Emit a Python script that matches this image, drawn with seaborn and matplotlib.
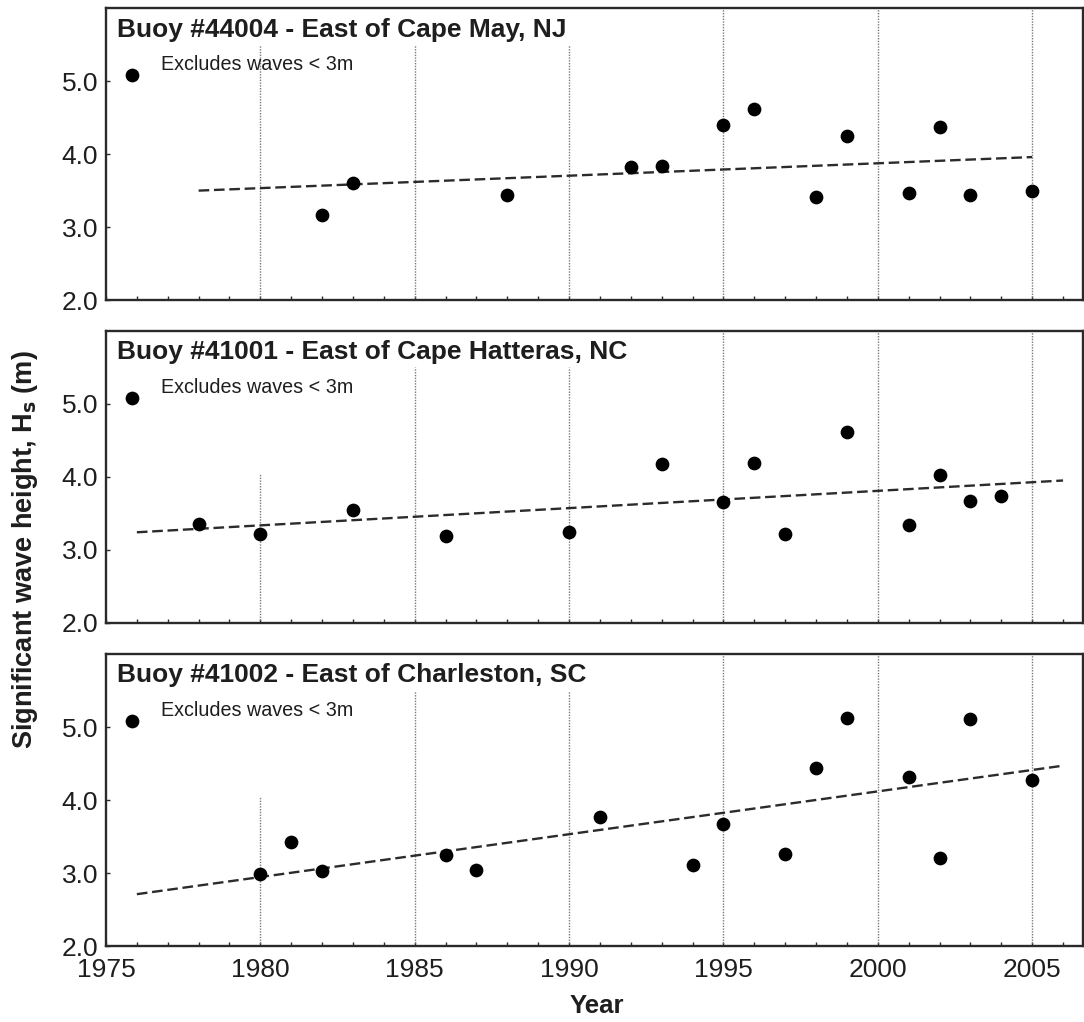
import numpy as np
import pandas as pd
import matplotlib
matplotlib.use("Agg")
import matplotlib.pyplot as plt
from matplotlib.ticker import MultipleLocator, FormatStrFormatter
import seaborn as sns

# ---- data -------------------------------------------------------------
titles = [
    "Buoy #44004 - East of Cape May, NJ",
    "Buoy #41001 - East of Cape Hatteras, NC",
    "Buoy #41002 - East of Charleston, SC",
]

years_44004 = [1982, 1983, 1988, 1992, 1993, 1995, 1996, 1998, 1999, 2001, 2002, 2003, 2005]
hs_44004 = [3.16, 3.60, 3.44, 3.82, 3.84, 4.40, 4.62, 3.41, 4.25, 3.47, 4.37, 3.44, 3.50]
trend_years_44004 = [1978, 2005]
trend_hs_44004 = [3.50, 3.96]

years_41001 = [1978, 1980, 1983, 1986, 1990, 1993, 1995, 1996, 1997, 1999, 2001, 2002, 2003, 2004]
hs_41001 = [3.36, 3.21, 3.55, 3.19, 3.24, 4.17, 3.66, 4.19, 3.21, 4.62, 3.34, 4.02, 3.67, 3.74]
trend_years_41001 = [1976, 2006]
trend_hs_41001 = [3.24, 3.95]

years_41002 = [1980, 1981, 1982, 1986, 1987, 1991, 1994, 1995, 1997, 1998, 1999, 2001, 2002, 2003, 2005]
hs_41002 = [2.98, 3.43, 3.03, 3.24, 3.04, 3.77, 3.11, 3.67, 3.26, 4.44, 5.12, 4.31, 3.21, 5.11, 4.28]
trend_years_41002 = [1976, 2006]
trend_hs_41002 = [2.71, 4.47]

legend_label = "Excludes waves < 3m"
grid_years = [1980, 1985, 1990, 1995, 2000, 2005]
x_ticks = [1975, 1980, 1985, 1990, 1995, 2000, 2005]
y_ticks = [2.0, 3.0, 4.0, 5.0]

# upper end of each dotted year line, per panel (lines stop short of the text)
grid_tops = [
    [5.5, 5.5, 5.5, 6.0, 6.0, 6.0],
    [4.05, 5.5, 5.5, 6.0, 6.0, 6.0],
    [4.05, 5.5, 5.5, 6.0, 6.0, 6.0],
]

panels = [
    (years_44004, hs_44004, trend_years_44004, trend_hs_44004),
    (years_41001, hs_41001, trend_years_41001, trend_hs_41001),
    (years_41002, hs_41002, trend_years_41002, trend_hs_41002),
]

# ---- style ------------------------------------------------------------
sns.set_theme(style="white")
plt.rcParams["font.family"] = ["Liberation Sans", "DejaVu Sans"]
ink = "#1e1e1e"
frame = "#2a2a2a"

W, H = 1084, 1022
fig = plt.figure(figsize=(W / 100, H / 100), dpi=100)

left = 106 / W
width = (1082.5 - 106) / W
panel_px = [(8.3, 300.0), (331.0, 622.7), (654.0, 946.0)]

for i, ((yrs, hs, tyrs, ths), (top_px, bot_px)) in enumerate(zip(panels, panel_px)):
    ax = fig.add_axes([left, 1 - bot_px / H, width, (bot_px - top_px) / H])
    ax.set_xlim(1975, 2006.63)
    ax.set_ylim(2.0, 6.0)

    # dotted year lines
    ax.vlines(grid_years, 2.0, grid_tops[i], colors="#7a7a7a",
              linestyles=(0, (1, 1)), linewidth=1.0, zorder=1)

    df = pd.DataFrame({"year": yrs, "hs": hs})
    sns.scatterplot(data=df, x="year", y="hs", ax=ax, color="black",
                    s=98, linewidth=0, zorder=4, legend=False)

    tdf = pd.DataFrame({"year": tyrs, "hs": ths})
    sns.lineplot(data=tdf, x="year", y="hs", ax=ax, color="#2b2b2b",
                 linewidth=1.7, dashes=False, zorder=3, legend=False)
    ax.lines[-1].set_dashes((4.5, 2.0))

    # panel heading and key
    ax.text(0.0113, 0.9026, titles[i], transform=ax.transAxes, ha="left",
            va="baseline", fontsize=19, fontweight="bold", color=ink)
    ax.scatter([0.0263], [0.771], transform=ax.transAxes, s=98, color="black",
               linewidth=0, zorder=5, clip_on=False)
    ax.text(0.0563, 0.7885, legend_label, transform=ax.transAxes, ha="left",
            va="baseline", fontsize=14.2, color=ink)

    # axes frame and ticks
    for sp in ax.spines.values():
        sp.set_visible(True)
        sp.set_color(frame)
        sp.set_linewidth(1.7)
    ax.set_yticks(y_ticks)
    ax.yaxis.set_major_formatter(FormatStrFormatter("%.1f"))
    ax.set_xticks(x_ticks)
    ax.xaxis.set_minor_locator(MultipleLocator(1))
    ax.tick_params(axis="both", which="both", direction="in", top=False,
                   right=False, bottom=True, left=True, color=frame,
                   width=1.0, length=3.2, labelcolor=ink)
    ax.tick_params(axis="y", labelsize=19, pad=5.5)
    ax.tick_params(axis="x", labelsize=19, pad=8.5)
    if i < 2:
        ax.tick_params(axis="x", labelbottom=False)
    ax.set_xlabel("")
    ax.set_ylabel("")
    ax.grid(False)

fig.text(597 / W, 1 - 1006 / H, "Year", ha="center", va="center",
         fontsize=18.5, fontweight="bold", color=ink)
fig.text(25 / W, 1 - 550 / H, r"Significant wave height, H$_\mathbf{s}$ (m)",
         rotation=90, ha="center", va="center", fontsize=19.5,
         fontweight="bold", color=ink)

fig.savefig("out.png", dpi=100, facecolor="white")
